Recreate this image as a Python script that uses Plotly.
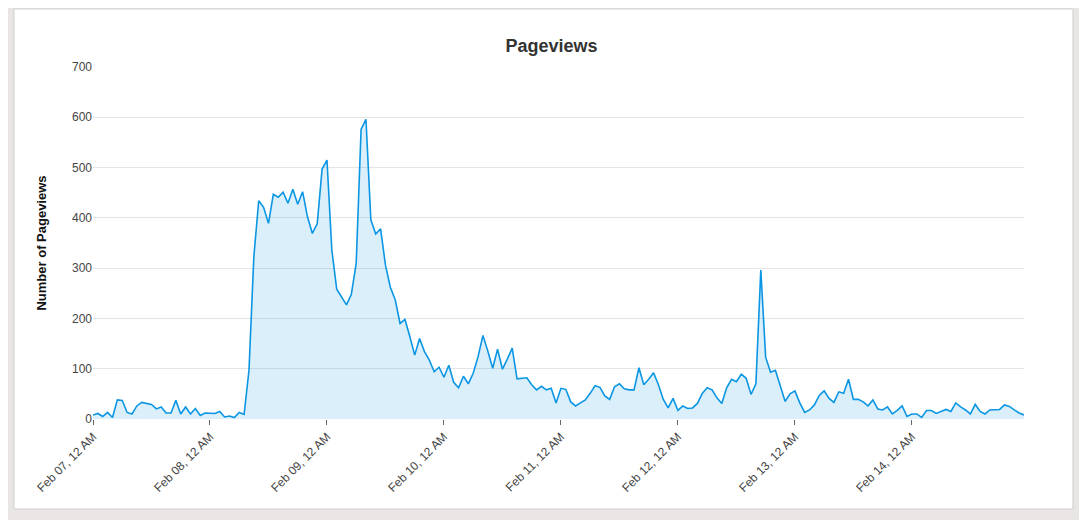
import pandas as pd
import plotly.graph_objects as go

# hourly pageviews, starting Feb 07 00:00
pageviews = [
    8, 11, 5, 13, 3, 38, 37, 13, 10, 26, 33, 31, 29, 20, 24, 12, 12, 37, 10, 24,
    10, 21, 7, 12, 12, 11, 15, 4, 6, 3, 13, 9, 97, 323, 434, 421, 389, 447, 441, 451,
    429, 457, 427, 452, 402, 369, 388, 497, 515, 336, 258, 243, 227, 248, 310, 576, 596, 396, 368, 378,
    306, 262,
    237, 190, 198, 164, 127, 160, 134, 117, 94, 103, 83, 107, 73, 62, 85, 70, 91, 124, 166, 135,
    101, 139, 99, 119, 141, 80, 81, 82, 68, 58, 65, 58, 61, 32, 61, 59, 34, 26, 32, 38,
    51, 66, 63, 46, 39, 64, 70, 60, 58, 58, 102, 68, 79, 92, 68, 39, 22, 41, 17, 26,
    21, 22, 31,
    51, 62, 58, 42, 31, 62, 79, 74, 89, 81, 49, 70, 296, 123, 93, 97, 68, 35, 50, 56,
    32, 13, 18, 28, 47, 56, 41, 33, 54, 51, 79, 39, 39, 34, 26, 38, 20, 18, 24, 10,
    17, 26, 5, 10, 10, 3, 17, 17, 11, 15, 19, 15, 32, 24, 18, 10, 29, 15, 10, 18,
    18, 19, 28, 25, 18, 12, 8,
]
times = pd.date_range("2024-02-07 00:00", periods=len(pageviews), freq="h")

fig = go.Figure()
fig.add_trace(go.Scatter(
    x=times, y=pageviews, mode="lines",
    line=dict(color="#0b96e3", width=1.6),
    fill="tozeroy", fillcolor="rgba(11,150,227,0.15)",
    hoverinfo="x+y",
))

# white card behind the chart
fig.add_shape(type="rect", xref="paper", yref="paper",
              x0=-0.0849, x1=1.0526, y0=-0.2557, y1=1.1648,
              fillcolor="white", line=dict(color="#cfcfcf", width=1), layer="below")

fig.update_layout(
    width=1087, height=520,
    margin=dict(l=85, r=71, t=59, b=109),
    paper_bgcolor="#e8e5e4", plot_bgcolor="white",
    font=dict(family="Liberation Sans, Arial", color="#333333", size=12),
    title=dict(text="<b>Pageviews</b>", x=0.5, xanchor="center", y=0.94,
               font=dict(size=18, color="#333333")),
    showlegend=False,
)
fig.update_xaxes(
    range=[times[0], times[-1]], showgrid=False, tickformat="%b %d, %I %p",
    dtick=86400000, tick0="2024-02-07", tickangle=-45, ticks="outside",
    ticklen=5, tickcolor="#666666", showline=False, tickfont=dict(size=12, color="#444444"),
)
fig.update_yaxes(
    range=[0, 700], dtick=100, gridcolor="#e4e4e4", zeroline=False,
    title=dict(text="<b>Number of Pageviews</b>", font=dict(size=13, color="#111111"), standoff=22),
    tickfont=dict(size=12, color="#444444"),
)

fig.write_html("out.html")
